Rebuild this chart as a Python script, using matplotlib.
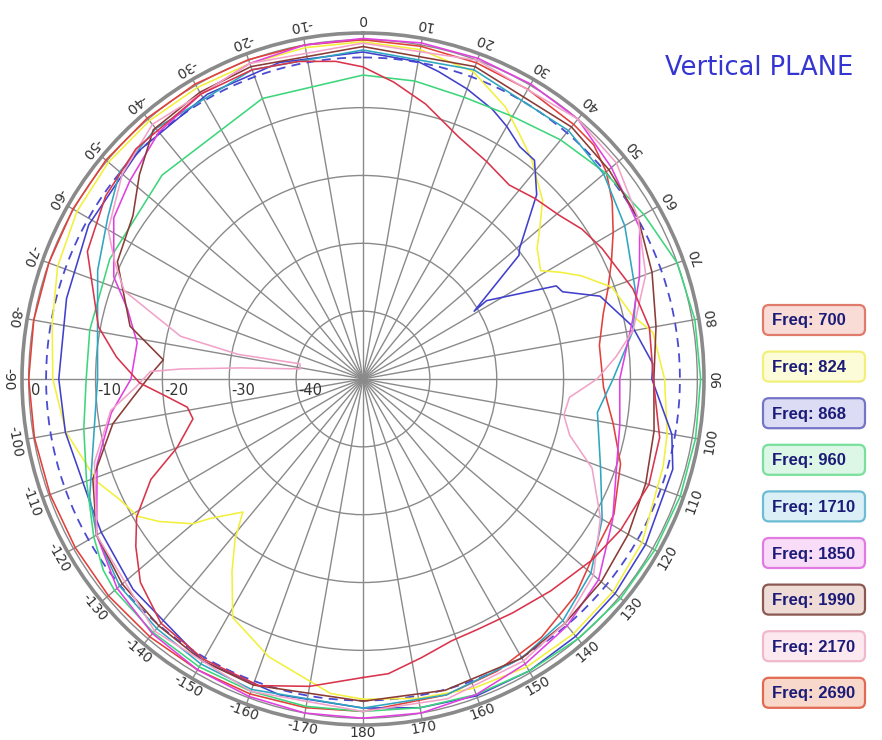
import numpy as np
import matplotlib
matplotlib.use("Agg")
import matplotlib.pyplot as plt
from matplotlib.patches import FancyBboxPatch

# ---------------- data (angle in degrees, clockwise from top; gain in dB) ----------------
freqs = [700, 824, 868, 960, 1710, 1850, 1990, 2170, 2690]

ang_700 = [-180, -170, -160, -150, -140, -130, -120, -110, -100, -90, -80, -70, -60, -50, -40, -30, -20, -10, 0,
           10, 20, 30, 40, 45, 50, 55, 60, 65, 70, 75, 82, 92, 100, 108, 118, 126, 135, 145, 155, 165, 180]
gain_700 = [-1.0, -0.8, -0.6, -0.5, -0.4, -0.3, -0.3, -0.2, -0.1, 0.0, 0.0, 0.0, 0.1, 0.2, 0.2, 0.2, 0.1, 0.0, 0.0,
            -0.2, -0.4, -0.7, -1.0, -1.2, -2.5, -4.5, -6.8, -9.0, -11.0, -12.8, -14.3, -14.0, -12.0, -9.5, -7.5,
            -7.0, -5.0, -3.5, -2.5, -1.8, -1.0]

ang_824 = [-180, -174, -161, -151, -145.4, -141, -137.5, -132, -130, -124.6, -121, -116, -111, -100, -90, -80, -70,
           -60, -50, -40, -30, -20, -10, 0, 10, 20, 28, 33, 38, 45.6, 50, 53.5, 59, 62, 65, 70, 77, 81, 90, 100,
           106, 120, 130, 140, 150, 160, 170, 180]
gain_824 = [-2.8, -3.4, -6.7, -9.8, -15.5, -19.6, -23.4, -19.3, -16.8, -13.0, -10.7, -9.5, -7.5, -4.9, -3.6, -2.8,
            -1.4, -0.6, -0.3, -0.3, -0.4, -0.5, -0.4, -0.3, -0.7, -1.8, -4.6, -7.0, -9.0, -12.4, -15.5, -17.6, -19.0,
            -16.5, -14.0, -10.4, -8.6, -6.1, -4.9, -3.8, -3.3, -1.8, -1.2, -1.0, -1.0, -1.5, -2.2, -2.8]

ang_868 = [-180, -165, -150, -132, -120, -114, -100, -90, -75, -61, -45, -29, -15, 0, 10, 14, 20, 26, 30, 34.4,
           38.5, 43.7, 50.6, 52, 59, 58, 64.6, 66.7, 71, 79, 87, 90, 100, 106, 120, 130, 140, 150, 160, 170, 180]
gain_868 = [-1.5, -1.8, -2.0, -3.7, -4.8, -5.3, -4.8, -4.5, -4.1, -3.1, -2.5, -2.0, -1.7, -1.8, -2.5, -3.3, -4.5,
            -5.8, -7.0, -8.5, -8.8, -12.4, -19.7, -20.4, -30.6, -28.2, -18.0, -17.5, -12.5, -9.0, -6.6, -6.8, -3.1,
            -1.8, -1.2, -0.8, -0.5, -0.3, -0.3, -0.8, -1.5]

ang_960 = [-180, -170, -160, -150, -140, -130, -126, -120, -110, -100, -90, -80, -65, -45, -20, 0, 10, 20, 30, 40,
           50, 60, 70, 80, 90, 100, 110, 120, 130, 140, 150, 160, 170, 180]
gain_960 = [-1.0, -1.0, -1.0, -1.0, -1.2, -1.5, -2.0, -3.5, -6.0, -7.6, -8.6, -8.5, -8.2, -7.5, -6.0, -5.2, -5.4,
            -5.8, -5.3, -4.0, -2.7, -1.5, 0.0, 0.4, 0.5, 0.5, 0.5, 0.4, 0.3, 0.0, -0.3, -0.5, -0.8, -1.0]

ang_1710 = [-180, -160, -150, -140, -130, -120, -113, -100, -90, -81, -68, -58, -50, -40, -20, 0, 20, 40, 50, 60,
            73, 80, 90, 98, 110, 120, 130, 140, 150, 165, 180]
gain_1710 = [-1.5, -1.3, -1.5, -2.0, -2.5, -4.0, -5.6, -9.2, -10.3, -9.8, -7.2, -5.0, -2.5, -1.8, -1.5, -1.5, -1.5,
             -2.2, -3.0, -4.8, -7.3, -9.0, -12.6, -14.6, -12.2, -8.7, -5.5, -3.5, -2.5, -1.8, -1.5]

ang_1850 = [-180, -170, -160, -150, -140, -130, -120, -107.5, -97.6, -90, -81, -73.7, -68, -57.5, -50, -40, -30,
            -20, -10, 0, 10, 20, 30, 40, 50, 61.7, 70, 78, 90, 100, 109, 119, 130, 140, 150, 160, 170, 180]
gain_1850 = [0.0, 0.0, -0.2, -0.5, -1.0, -2.0, -4.0, -8.3, -12.0, -15.3, -15.8, -13.3, -9.8, -5.8, -4.5, -2.5, -1.5,
             -0.5, 0.0, 0.2, 0.3, 0.3, 0.2, 0.0, -1.5, -3.0, -6.0, -8.8, -11.6, -11.0, -9.9, -7.3, -4.0, -2.5, -1.5,
             -0.5, 0.0, 0.0]

ang_1990 = [-180, -160, -150, -140, -130, -120, -110, -100, -94.5, -88, -84.6, -77.4, -64.8, -55, -48, -40.5, -30,
            -20, 0, 20, 40, 50, 60, 70, 80, 90, 100, 110, 120, 130, 140, 150, 165, 180]
gain_1990 = [-2.5, -2.0, -2.0, -2.5, -3.0, -4.0, -7.0, -12.0, -15.5, -18.6, -20.0, -14.3, -9.4, -8.0, -5.0, -1.7,
             -1.2, -1.0, -1.0, -1.0, -1.5, -2.0, -2.5, -4.0, -5.5, -6.5, -5.8, -5.0, -4.2, -3.5, -3.0, -2.5, -2.5, -2.5]

ang_2170 = [-180, -160, -140, -120, -107, -97, -92, -88, -86.9, -84.9, -81, -76.6, -79, -77, -70, -65, -60, -50,
            -40, -20, 0, 20, 40, 50, 60, 70, 80, 85, 90, 95, 100, 105, 111, 120, 130, 140, 150, 165, 180]
gain_2170 = [-1.0, -1.0, -1.5, -4.0, -8.0, -12.0, -16.0, -18.2, -22.7, -31.6, -40.5, -40.3, -31.0, -22.0, -12.0,
             -9.0, -6.0, -3.0, -1.0, -0.5, -0.5, 0.0, 0.0, -0.5, -2.5, -5.0, -9.0, -12.0, -15.0, -19.0, -19.5, -18.0,
             -13.3, -9.0, -5.0, -3.0, -2.0, -1.2, -1.0]

ang_2690 = [-180, -170, -161, -150, -140, -132, -126, -121, -115, -110, -103, -99, -95, -91, -85, -79, -65.5, -55,
            -45, -30, -20, -11.7, -5, 0, 6, 13, 22, 30, 37.4, 44, 50.6, 56, 61.7, 71.8, 80, 91, 101, 110, 120, 128,
            138, 147, 155, 161, 168, 175, 180]
gain_2690 = [-6.0, -4.0, -2.2, -2.3, -3.0, -5.2, -8.0, -10.5, -15.0, -20.4, -23.9, -23.4, -20.5, -16.6, -13.0, -9.7,
             -4.7, -3.0, -2.0, -1.5, -1.5, -2.2, -3.0, -4.0, -6.0, -8.4, -11.6, -13.0, -14.0, -13.0, -12.0, -10.5,
             -9.4, -7.5, -6.5, -6.5, -4.8, -4.5, -5.5, -6.6, -8.0, -8.9, -9.3, -9.2, -8.0, -6.4, -6.0]

dashed_level = -2.6

radial_ticks = [-40, -30, -20, -10, 0]
angle_ticks = list(range(-170, 181, 10))

line_colors = ["#e2403a", "#f2f03c", "#4040cc", "#3ed67c", "#2fa6bf", "#e040e0", "#8a3b36", "#f2a2c8", "#d8344c"]
box_edges = ["#e07a6a", "#f2f07a", "#7474c8", "#78e09a", "#6cbcd4", "#e27ae2", "#8a5a52", "#f0b8cc", "#e26a52"]
box_fills = ["#f9dcd6", "#fdfcd9", "#dcdcf4", "#ddf7e6", "#dbeff7", "#f8dcf8", "#efdcd6", "#fce9f0", "#f9d8cc"]

angles = [ang_700, ang_824, ang_868, ang_960, ang_1710, ang_1850, ang_1990, ang_2170, ang_2690]
gains = [gain_700, gain_824, gain_868, gain_960, gain_1710, gain_1850, gain_1990, gain_2170, gain_2690]

# ---------------- figure ----------------
W, H = 882, 740
fig = plt.figure(figsize=(W / 100, H / 100), dpi=100)
fig.patch.set_facecolor("white")

ax = fig.add_axes([22 / W, 15 / H, 682 / W, 692 / H], projection="polar")
ax.set_aspect("auto")
ax.set_theta_zero_location("N")
ax.set_theta_direction(-1)
ax.set_rlim(-50, 1)
ax.set_xticks(np.deg2rad(np.arange(0, 360, 10)))
ax.set_xticklabels([])
ax.set_yticks(radial_ticks)
ax.set_yticklabels([])
ax.grid(True, color="#8a8a8a", linewidth=1.0)
ax.spines["polar"].set_color("#8a8a8a")
ax.spines["polar"].set_linewidth(2.6)
ax.tick_params(length=0)

# dashed reference ring
tfull = np.linspace(0, 2 * np.pi, 361)
ax.plot(tfull, np.full_like(tfull, dashed_level), color="#4a4ad2", lw=1.3, ls=(0, (5, 3.5)), zorder=3)

for a, g, c in zip(angles, gains, line_colors):
    ax.plot(np.deg2rad(a), g, color=c, lw=1.15, zorder=4, clip_on=False)

# radial labels along the -90 direction
for v in radial_ticks:
    ax.annotate(str(v), xy=(np.deg2rad(-90), v), xytext=(1.5, -3), textcoords="offset points",
                ha="left", va="top", fontsize=10.5, color="#333333", family="DejaVu Sans", zorder=6)

# angle labels around the outside (pulled in a little near the bottom edge of the image)
for a in angle_ticks:
    r_lab = 3.0 - 0.8 * max(0.0, -np.cos(np.deg2rad(a)))
    ax.text(np.deg2rad(a), r_lab, str(a), rotation=180 - a, rotation_mode="anchor",
            ha="center", va="center", fontsize=10, color="#333333", clip_on=False,
            family="DejaVu Sans")

# ---------------- overlay (title + legend) in pixel coordinates ----------------
ov = fig.add_axes([0, 0, 1, 1])
ov.set_xlim(0, W)
ov.set_ylim(H, 0)
ov.axis("off")

ov.text(665, 68, "Vertical PLANE", color="#3535d2", fontsize=18.5, ha="left", va="center",
        family="DejaVu Sans")

box_x, box_w, box_h = 763, 102, 30
first_c, step = 320, 46.6
for i, f in enumerate(freqs):
    cy = first_c + i * step
    ov.add_patch(FancyBboxPatch((box_x, cy - box_h / 2), box_w, box_h,
                                boxstyle="round,pad=0,rounding_size=6",
                                fc=box_fills[i], ec=box_edges[i], lw=1.6))
    ov.text(box_x + 9, cy + 1, f"Freq: {f}", ha="left", va="center", fontsize=12,
            fontweight="bold", color="#1c1c78", family="Liberation Sans")

fig.savefig("out.png", dpi=100, facecolor="white")
